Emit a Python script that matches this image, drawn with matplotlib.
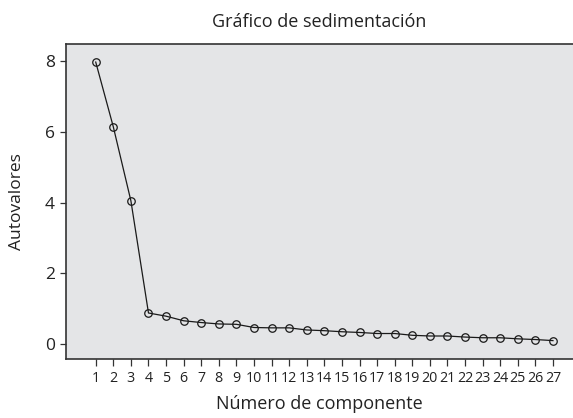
import matplotlib
matplotlib.use("Agg")
from matplotlib import pyplot as plt
import numpy as np

# scree plot data
componentes = list(range(1, 28))
autovalores = [7.97, 6.14, 4.05, 0.88, 0.79, 0.66, 0.61, 0.57, 0.56, 0.47,
               0.46, 0.46, 0.40, 0.38, 0.35, 0.33, 0.30, 0.30, 0.25, 0.23,
               0.23, 0.20, 0.18, 0.18, 0.15, 0.13, 0.10]
xticks = list(range(1, 28))
yticks = [0, 2, 4, 6, 8]

plt.rcParams['font.family'] = ['Open Sans', 'DejaVu Sans']

fig = plt.figure(figsize=(5.73, 4.18), dpi=100)
ax = fig.add_axes([66/573, 59/418, 1 - 66/573, (359 - 44)/418])
ax.set_facecolor('#e4e5e7')

ax.plot(componentes, autovalores, '-o', color='#1a1a1a', lw=0.9,
        markersize=5.4, markerfacecolor='none', markeredgewidth=0.9)

ax.set_xlim(-0.69, 28.14)
ax.set_ylim(-0.42, 8.48)
ax.set_xticks(xticks)
ax.set_xticklabels([str(t) for t in xticks], fontsize=10.3, color='#222222')
ax.set_yticks(yticks)
ax.set_yticklabels([str(t) for t in yticks], fontsize=12.5, color='#222222')
ax.tick_params(axis='x', length=5, width=0.9, color='#333333', pad=4)
ax.tick_params(axis='y', length=4, width=0.9, color='#333333', pad=4)

for s in ['left', 'top', 'bottom']:
    ax.spines[s].set_color('#333333')
    ax.spines[s].set_linewidth(1.2)
ax.spines['right'].set_visible(False)

ax.set_title("Gráfico de sedimentación", fontsize=13, color='#222222', pad=12)
ax.set_xlabel("Número de componente", fontsize=13, color='#222222', labelpad=6)
ax.set_ylabel("Autovalores", fontsize=12.5, color='#222222', labelpad=14)

plt.savefig("out.png", dpi=100)
